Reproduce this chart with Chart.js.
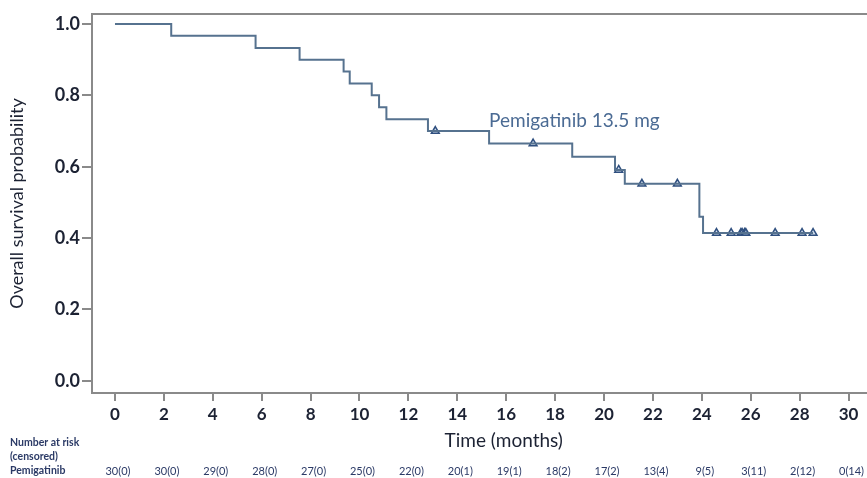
<!DOCTYPE html>
<html>
<head>
<meta charset="utf-8">
<script src="https://cdn.jsdelivr.net/npm/chart.js@4"></script>
<style>
  html, body { margin: 0; padding: 0; background: #fff; }
  #wrap { width: 867px; height: 478px; }
</style>
</head>
<body>
<div id="wrap"><canvas id="km" width="867" height="478"></canvas></div>
<script>
// step points of the survival curve (month of event, survival after it)
var eventTimes = [0, 2.3, 5.75, 7.55, 9.35, 9.6, 10.5, 10.8, 11.1, 12.8, 15.3, 18.7, 20.45, 20.85, 23.9, 24.05, 28.55];
var survival   = [1.0, 0.967, 0.933, 0.9, 0.867, 0.833, 0.8, 0.767, 0.733, 0.7, 0.665, 0.628, 0.591, 0.552, 0.46, 0.414, 0.414];

// censored patients (triangles)
var censorTimes = [13.1, 17.1, 20.6, 21.55, 23.0, 24.6, 25.2, 25.6, 25.65, 25.75, 25.8, 27.0, 28.1, 28.55];
var censorSurv  = [0.7, 0.665, 0.591, 0.552, 0.552, 0.414, 0.414, 0.414, 0.414, 0.414, 0.414, 0.414, 0.414, 0.414];

var xTicks = [0, 2, 4, 6, 8, 10, 12, 14, 16, 18, 20, 22, 24, 26, 28, 30];
var yTicks = [0, 0.2, 0.4, 0.6, 0.8, 1.0];
var atRisk = ["30(0)", "30(0)", "29(0)", "28(0)", "27(0)", "25(0)", "22(0)", "20(1)", "19(1)", "18(2)", "17(2)", "13(4)", "9(5)", "3(11)", "2(12)", "0(14)"];

var FONT = "Lato, 'Open Sans', sans-serif";
var TXT = "#1c2233";
var lineCol = "#56728f";
var markCol = "#2f4f7f";

var curve = eventTimes.map(function (t, i) { return { x: t, y: survival[i] }; });
var censors = censorTimes.map(function (t, i) { return { x: t, y: censorSurv[i] }; });

function seg(ctx, x1, y1, x2, y2) {
  ctx.beginPath();
  ctx.moveTo(x1, y1);
  ctx.lineTo(x2, y2);
  ctx.stroke();
}

var extras = {
  id: "extras",
  afterDraw: function (chart) {
    var ctx = chart.ctx, a = chart.chartArea;
    var xs = chart.scales.x, ys = chart.scales.y;
    var W = chart.width;
    ctx.save();
    // frame: left, top and bottom run off the right edge like the original
    ctx.strokeStyle = "#8a8a8a";
    ctx.lineWidth = 2;
    ctx.lineCap = "square";
    seg(ctx, a.left, a.top, W, a.top);
    seg(ctx, a.left, a.top, a.left, a.bottom);
    seg(ctx, a.left, a.bottom, W, a.bottom);

    // curve label
    ctx.fillStyle = "#4b6b94";
    ctx.font = "19px " + FONT;
    ctx.textAlign = "left";
    ctx.textBaseline = "alphabetic";
    ctx.fillText("Pemigatinib 13.5 mg", xs.getPixelForValue(15.3), ys.getPixelForValue(0.711));

    // x title
    ctx.fillStyle = TXT;
    ctx.font = "19px " + FONT;
    ctx.textAlign = "center";
    ctx.textBaseline = "middle";
    ctx.fillText("Time (months)", xs.getPixelForValue(15.9), 441);

    // number at risk table
    ctx.fillStyle = "#2b3a66";
    ctx.font = "bold 10.5px " + FONT;
    ctx.textAlign = "left";
    ctx.fillText("Number at risk", 10, 443);
    ctx.fillText("(censored)", 10, 457);
    ctx.fillText("Pemigatinib", 10, 471);
    ctx.font = "11px " + FONT;
    ctx.textAlign = "center";
    for (var i = 0; i < atRisk.length; i++) {
      ctx.fillText(atRisk[i], xs.getPixelForValue(xTicks[i]) + 3, 471);
    }
    ctx.restore();
  }
};

new Chart(document.getElementById("km"), {
  type: "line",
  data: {
    datasets: [
      {
        label: "Pemigatinib 13.5 mg",
        data: curve,
        stepped: "before",
        borderColor: lineCol,
        borderWidth: 2,
        pointRadius: 0,
        fill: false
      },
      {
        label: "Censored",
        data: censors,
        showLine: false,
        pointStyle: "triangle",
        pointRadius: 4.5,
        pointBorderWidth: 1.5,
        pointBorderColor: markCol,
        pointBackgroundColor: "rgba(180,200,225,0.6)"
      }
    ]
  },
  options: {
    responsive: false,
    animation: false,
    layout: { padding: { left: 0, right: 0, top: 14, bottom: 0 } },
    plugins: {
      legend: { display: false },
      tooltip: { enabled: false }
    },
    scales: {
      x: {
        type: "linear",
        min: -0.94,
        max: 30.51,
        afterBuildTicks: function (s) { s.ticks = xTicks.map(function (v) { return { value: v }; }); },
        afterFit: function (s) { s.height = 85; s.paddingLeft = 0; s.paddingRight = 0; },
        border: { display: false },
        grid: { drawOnChartArea: false, drawTicks: true, tickLength: 8, color: "#8a8a8a", lineWidth: 2 },
        ticks: { color: TXT, padding: 3, maxRotation: 0, autoSkip: false, font: { family: FONT, size: 17, weight: "bold" } }
      },
      y: {
        min: -0.034,
        max: 1.028,
        afterBuildTicks: function (s) { s.ticks = yTicks.map(function (v) { return { value: v }; }); },
        afterFit: function (s) { s.width = 92; s.paddingTop = 0; s.paddingBottom = 0; },
        border: { display: false },
        grid: { drawOnChartArea: false, drawTicks: true, tickLength: 10, color: "#8a8a8a", lineWidth: 2 },
        ticks: {
          color: TXT, padding: 2, font: { family: FONT, size: 18, weight: "bold" },
          callback: function (v) { return v.toFixed(1); }
        },
        title: {
          display: true,
          text: "Overall survival probability",
          color: TXT,
          padding: { top: 6, bottom: 0 },
          font: { family: FONT, size: 18 }
        }
      }
    }
  },
  plugins: [extras]
});
</script>
</body>
</html>
